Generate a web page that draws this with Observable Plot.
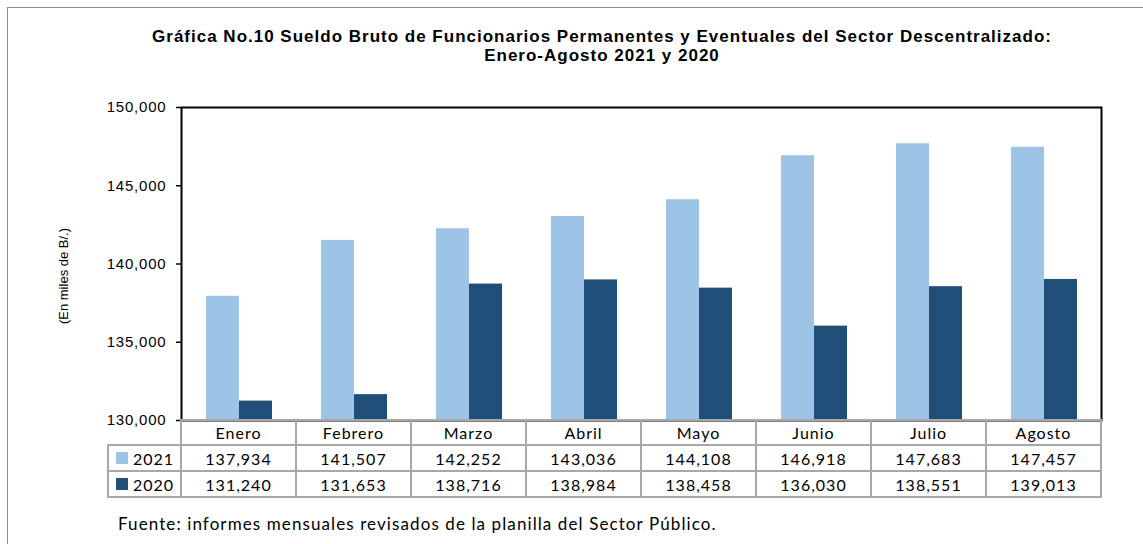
<!DOCTYPE html>
<html>
<head>
<meta charset="utf-8">
<script src="https://cdn.jsdelivr.net/npm/d3@7"></script>
<script src="https://cdn.jsdelivr.net/npm/@observablehq/plot@0.6"></script>
<style>
  body { margin: 0; background: #fff; }
  #wrap { position: relative; width: 1143px; height: 544px; overflow: hidden; background: #fff; }
  #outer { position: absolute; left: 7px; top: 7px; width: 1200px; height: 600px;
           border-left: 1px solid #8a8a8a; border-top: 1px solid #8a8a8a; }
  #title { position: absolute; left: 91px; width: 1022px; top: 27px; text-align: center;
           font: bold 17px "Liberation Sans", Arial, sans-serif; letter-spacing: 1px; line-height: 19px; color: #000; margin: 0; }
  #ylabel { position: absolute; left: 63px; top: 276px; transform: translate(-50%, -50%) rotate(-90deg);
            font: 13px "Liberation Sans", Arial, sans-serif; white-space: nowrap; color: #000; }
  #chart { position: absolute; left: 0; top: 0; }
  .cell { position: absolute; box-sizing: border-box; border: 2px solid #a8a8a8;
          display: flex; align-items: center; justify-content: center;
          font: 16px Lato, "Open Sans", sans-serif; letter-spacing: 1px; color: #000; background: transparent; }
  .legcell { justify-content: flex-start; padding-left: 7px; }
  .sw { width: 12px; height: 12px; margin-right: 5px; flex: none; }
  #source { position: absolute; left: 118px; top: 513px; font: 17px Lato, "Open Sans", sans-serif;
            letter-spacing: 1.1px; color: #000; white-space: nowrap; }
</style>
</head>
<body>
<div id="wrap">
  <div id="outer"></div>
  <div id="title"></div>
  <div id="chart"></div>
  <div id="ylabel"></div>
  <div id="table"></div>
  <div id="source"></div>
</div>
<script>
const titleLines = ["Gráfica No.10 Sueldo Bruto de Funcionarios Permanentes y Eventuales del Sector Descentralizado:",
                    "Enero-Agosto 2021 y 2020"];
const yLabel = "(En miles de B/.)";
const sourceText = "Fuente: informes mensuales revisados de la planilla del Sector Público.";
const months = ["Enero", "Febrero", "Marzo", "Abril", "Mayo", "Junio", "Julio", "Agosto"];
const years = ["2021", "2020"];
const values2021 = [137934, 141507, 142252, 143036, 144108, 146918, 147683, 147457];
const values2020 = [131240, 131653, 138716, 138984, 138458, 136030, 138551, 139013];
const yTicks = [130000, 135000, 140000, 145000, 150000];
const yDomain = [130000, 150000];
const colors = ["#9DC3E6", "#1F4E79"];

const seriesValues = { "2021": values2021, "2020": values2020 };
const data = months.flatMap((m, i) => years.map(y => ({ month: m, year: y, value: seriesValues[y][i] })));
const fmt = d3.format(",");

// Title, axis label, source
document.getElementById("title").innerHTML = titleLines.map(t => `<div>${t}</div>`).join("");
document.getElementById("ylabel").textContent = yLabel;
document.getElementById("source").textContent = sourceText;

// Layout
const W = 1143, plotLeft = 181, plotRight = 1101, plotTop = 107, plotBottom = 420;

const chart = Plot.plot({
  width: W,
  height: plotBottom + 11,
  marginLeft: plotLeft,
  marginRight: W - plotRight,
  marginTop: plotTop,
  marginBottom: 11,
  style: { fontFamily: "'Liberation Sans', Arial, sans-serif", fontSize: "15px", letterSpacing: "0.8px", color: "#000", background: "transparent" },
  fx: { domain: months, padding: 0, axis: null, label: null },
  x: { domain: years, paddingInner: 0, paddingOuter: 0.742, axis: null, label: null },
  y: { domain: yDomain, label: null },
  color: { domain: years, range: colors },
  marks: [
    Plot.barY(data, { fx: "month", x: "year", y: "value", fill: "year", clip: true }),
    Plot.axisY({ ticks: yTicks, tickFormat: fmt, tickSize: 5, tickPadding: 10, label: null, stroke: "#000", strokeWidth: 1.5 }),
    Plot.frame({ facet: "super", stroke: "#000", strokeWidth: 2 })
  ]
});
document.getElementById("chart").appendChild(chart);

// Data table below the plot, aligned to the facet bands
const colW = (plotRight - plotLeft) / months.length;
const legLeft = 108;
const rowTops = [plotBottom, 445, 471, 497];
const table = d3.select("#table");
function cell(x0, x1, r, html, cls) {
  table.append("div").attr("class", "cell" + (cls ? " " + cls : ""))
    .style("left", (x0 - 1) + "px").style("top", (rowTops[r] - 1) + "px")
    .style("width", (x1 - x0 + 2) + "px").style("height", (rowTops[r + 1] - rowTops[r] + 2) + "px")
    .html(html);
}
months.forEach((m, i) => cell(plotLeft + i * colW, plotLeft + (i + 1) * colW, 0, m));
years.forEach((y, r) => {
  cell(legLeft, plotLeft, r + 1, `<span class="sw" style="background:${colors[r]}"></span>${y}`, "legcell");
  seriesValues[y].forEach((v, i) => cell(plotLeft + i * colW, plotLeft + (i + 1) * colW, r + 1, fmt(v)));
});
</script>
</body>
</html>
